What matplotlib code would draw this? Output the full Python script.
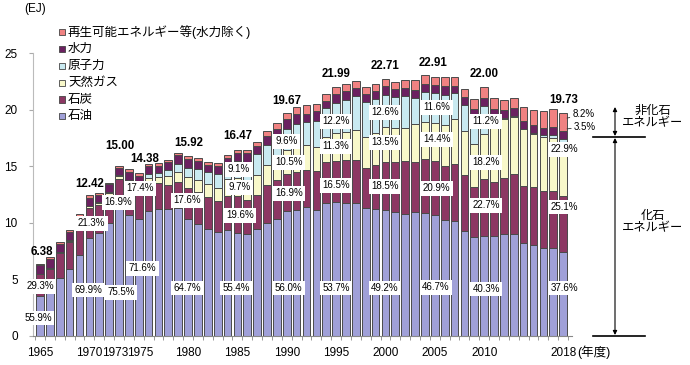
import matplotlib
matplotlib.use('Agg')
import matplotlib.pyplot as plt
from matplotlib.patches import Rectangle
from matplotlib.lines import Line2D
import numpy as np

plt.rcParams['font.family'] = ['Liberation Sans', 'Noto Sans CJK JP']

# --- data (EJ), fiscal years 1965-2018 ---
years = list(range(1965, 2019))
oil = [3.57, 4.10, 5.09, 5.88, 7.15, 8.68, 9.10, 10.00, 11.33, 10.68,
       10.30, 11.00, 11.25, 11.25, 11.30, 10.30, 9.90, 9.45, 9.15, 9.40,
       9.12, 9.00, 9.45, 10.00, 10.35, 11.02, 11.10, 11.41, 11.12, 11.71,
       11.81, 11.77, 11.71, 11.30, 11.25, 11.17, 10.97, 10.77, 10.97, 10.83,
       10.70, 10.24, 10.20, 9.29, 8.77, 8.87, 8.85, 9.05, 9.00, 8.18,
       8.06, 7.80, 7.79, 7.42]
coal = [1.87, 1.85, 2.20, 2.45, 2.35, 2.65, 2.45, 2.45, 2.54, 2.60,
        2.50, 2.50, 2.25, 2.05, 2.30, 2.80, 2.85, 2.85, 2.75, 3.00,
        3.23, 3.05, 3.05, 3.30, 3.40, 3.32, 3.40, 3.24, 3.50, 3.65,
        3.63, 3.76, 3.82, 3.50, 3.85, 4.20, 4.42, 4.65, 4.42, 4.85,
        4.79, 4.76, 5.00, 4.92, 4.40, 4.99, 4.75, 4.95, 5.30, 5.08,
        5.08, 4.98, 5.02, 4.95]
gas = [0.08, 0.08, 0.10, 0.10, 0.13, 0.15, 0.17, 0.20, 0.23, 0.30,
       0.36, 0.45, 0.55, 0.80, 0.85, 0.97, 1.05, 1.10, 1.20, 1.45,
       1.60, 1.65, 1.70, 1.80, 1.95, 2.07, 2.20, 2.21, 2.10, 2.25,
       2.48, 2.50, 2.65, 2.80, 2.85, 3.07, 2.95, 2.95, 3.38, 3.24,
       3.30, 3.60, 4.00, 3.91, 3.75, 4.00, 4.85, 5.15, 5.05, 5.02,
       4.72, 4.79, 4.70, 4.52]
nuclear = [0.00, 0.00, 0.01, 0.02, 0.03, 0.04, 0.09, 0.10, 0.09, 0.20,
           0.22, 0.35, 0.35, 0.60, 0.75, 0.75, 0.95, 1.05, 1.20, 1.25,
           1.50, 1.65, 1.85, 1.75, 1.80, 1.89, 2.05, 2.06, 2.30, 2.55,
           2.68, 2.86, 3.05, 3.05, 2.95, 2.86, 2.80, 2.80, 2.26, 2.64,
           2.66, 2.70, 2.25, 2.27, 2.45, 2.46, 0.90, 0.13, 0.08, 0.00,
           0.08, 0.16, 0.28, 0.55]
hydro = [0.72, 0.80, 0.70, 0.75, 0.85, 0.70, 0.68, 0.65, 0.62, 0.75,
         0.78, 0.70, 0.65, 0.65, 0.75, 0.83, 0.75, 0.70, 0.75, 0.60,
         0.75, 0.78, 0.70, 0.80, 0.78, 0.83, 0.87, 0.73, 0.85, 0.62,
         0.77, 0.72, 0.72, 0.75, 0.72, 0.77, 0.70, 0.70, 0.74, 0.74,
         0.71, 0.75, 0.65, 0.68, 0.70, 0.73, 0.74, 0.67, 0.69, 0.69,
         0.70, 0.66, 0.70, 0.69]
renew = [0.14, 0.15, 0.17, 0.16, 0.23, 0.20, 0.16, 0.16, 0.19, 0.22,
         0.22, 0.20, 0.22, 0.22, 0.25, 0.27, 0.25, 0.25, 0.25, 0.25,
         0.27, 0.30, 0.35, 0.45, 0.50, 0.54, 0.58, 0.74, 0.63, 0.62,
         0.62, 0.69, 0.60, 0.60, 0.62, 0.64, 0.61, 0.73, 0.83, 0.80,
         0.75, 0.84, 0.82, 0.79, 0.85, 0.95, 0.94, 0.88, 0.91, 1.27,
         1.36, 1.47, 1.59, 1.60]

series_names = ['石油', '石炭', '天然ガス', '原子力', '水力', '再生可能エネルギー等(水力除く)']
colors = ['#A0A0D8', '#8C3763', '#F8F8CA', '#C9EAF1', '#6B2160', '#F08282']

tick_years = [1965, 1970, 1972.6, 1975.2, 1980, 1985, 1990, 1995, 2000, 2005, 2010, 2018]
tick_labels = ['1965', '1970', '1973', '1975', '1980', '1985', '1990', '1995',
               '2000', '2005', '2010', '2018']

total_labels = [(1965.2, 7.41, '6.38'), (1970.0, 13.46, '12.42'), (1973.05, 16.81, '15.00'),
                (1975.6, 15.65, '14.38'), (1980.05, 17.03, '15.92'), (1985.0, 17.65, '16.47'),
                (1990.0, 20.74, '19.67'), (1995.0, 23.12, '21.99'), (1999.95, 23.83, '22.71'),
                (2004.8, 24.1, '22.91'), (2010.0, 23.12, '22.00'), (2018.05, 20.87, '19.73')]

pct_labels = [(1964.8, 1.59, '55.9%'), (1965.0, 4.41, '29.3%'),
              (1969.9, 4.06, '69.9%'), (1970.2, 9.97, '21.3%'),
              (1973.2, 3.88, '75.5%'), (1972.9, 11.83, '16.9%'),
              (1975.4, 6.0, '71.6%'), (1975.1, 13.06, '17.4%'),
              (1979.9, 4.24, '64.7%'), (1979.9, 12.0, '17.6%'),
              (1984.9, 4.24, '55.4%'), (1985.25, 10.68, '19.6%'),
              (1985.25, 13.15, '9.7%'), (1985.15, 14.74, '9.1%'),
              (1990.2, 4.24, '56.0%'), (1990.2, 12.62, '16.9%'),
              (1990.2, 15.36, '10.5%'), (1990.0, 17.21, '9.6%'),
              (1995.0, 4.24, '53.7%'), (1995.0, 13.33, '16.5%'),
              (1995.0, 16.77, '11.3%'), (1995.0, 18.98, '12.2%'),
              (1999.95, 4.24, '49.2%'), (1999.95, 13.24, '18.5%'),
              (1999.95, 17.12, '13.5%'), (1999.95, 19.77, '12.6%'),
              (2005.1, 4.32, '46.7%'), (2005.2, 13.06, '20.9%'),
              (2005.2, 17.39, '14.4%'), (2005.2, 20.21, '11.6%'),
              (2010.2, 4.15, '40.3%'), (2010.2, 11.56, '22.7%'),
              (2010.2, 15.36, '18.2%'), (2010.2, 18.98, '11.2%'),
              (2018.1, 4.24, '37.6%'), (2018.1, 11.39, '25.1%'),
              (2018.1, 16.5, '22.9%')]

W, H = 690, 365


def px(x, y):
    return x / W, 1 - y / H


fig = plt.figure(figsize=(6.9, 3.65), dpi=100)
ax = fig.add_axes([33 / W, 29 / H, 539 / W, 283 / H])

series = [oil, coal, gas, nuclear, hydro, renew]
bottom = np.zeros(len(years))
for vals, col in zip(series, colors):
    ax.bar(years, vals, bottom=bottom, width=0.78, color=col,
           edgecolor='#4a4a4a', linewidth=0.7, zorder=2)
    bottom += np.array(vals)

ax.set_xlim(1964.29, 2018.9)
ax.set_ylim(0, 25)
ax.set_yticks([0, 5, 10, 15, 20, 25])
ax.tick_params(axis='y', labelsize=8.5, length=3, color='#aaaaaa', pad=8)
ax.set_xticks(tick_years)
ax.set_xticklabels(tick_labels)
ax.set_xticks(np.arange(1964.5, 2019, 1), minor=True)
ax.tick_params(axis='x', which='major', labelsize=8.5, length=0, pad=8)
ax.tick_params(axis='x', which='minor', length=3, color='#888888')
for s in ['top', 'right']:
    ax.spines[s].set_visible(False)
ax.spines['left'].set_color('#bbbbbb')
ax.spines['bottom'].set_color('#888888')

for x, y, t in total_labels:
    ax.text(x, y, t, ha='center', va='center', fontsize=8.3, fontweight='bold', zorder=5)

for x, y, t in pct_labels:
    ax.text(x, y, t, ha='center', va='center', fontsize=7, zorder=5,
            bbox=dict(boxstyle='square,pad=0.25', fc='white', ec='none'))

# small leader labels on 2018 bar
ax.annotate('8.2%', xy=(2018.4, 19.25), xytext=(2018.95, 19.6), fontsize=7,
            va='center', ha='left', annotation_clip=False,
            arrowprops=dict(arrowstyle='-', color='#333333', lw=0.6, shrinkA=0, shrinkB=0))
ax.annotate('3.5%', xy=(2018.4, 18.3), xytext=(2019.1, 18.45), fontsize=7,
            va='center', ha='left', annotation_clip=False,
            arrowprops=dict(arrowstyle='-', color='#333333', lw=0.6, shrinkA=0, shrinkB=0))

fig.text(*px(24, 9), '(EJ)', fontsize=8.5, va='center', ha='left')
fig.text(*px(577, 352), '(年度)', fontsize=9, va='center', ha='left')

# legend (top to bottom)
for i, idx in enumerate([5, 4, 3, 2, 1, 0]):
    yy = 31.7 + 16.95 * i
    fig.add_artist(Rectangle(px(59, yy + 3), 6 / W, 6 / H, transform=fig.transFigure,
                             fc=colors[idx], ec='#444444', lw=0.6))
    fig.text(*px(68, yy), series_names[idx], fontsize=9, va='center', ha='left')

# fossil / non-fossil bracket on the right
for yy in [137, 336]:
    fig.add_artist(Line2D([593 / W, 645 / W], [1 - yy / H, 1 - yy / H],
                          transform=fig.transFigure, color='black', lw=1.2))
arrow = dict(arrowstyle='<|-|>', color='black', lw=0.8, mutation_scale=6,
             shrinkA=0, shrinkB=0)
ax.annotate('', xy=px(615, 107), xytext=px(615, 136), xycoords='figure fraction',
            textcoords='figure fraction', arrowprops=arrow)
ax.annotate('', xy=px(615, 138), xytext=px(615, 335), xycoords='figure fraction',
            textcoords='figure fraction', arrowprops=arrow)
fig.text(*px(653, 117), '非化石\nエネルギー', fontsize=8.8, ha='center', va='center',
         linespacing=1.05)
fig.text(*px(653, 222), '化石\nエネルギー', fontsize=8.8, ha='center', va='center',
         linespacing=1.05)

fig.savefig('out.png', dpi=100)
